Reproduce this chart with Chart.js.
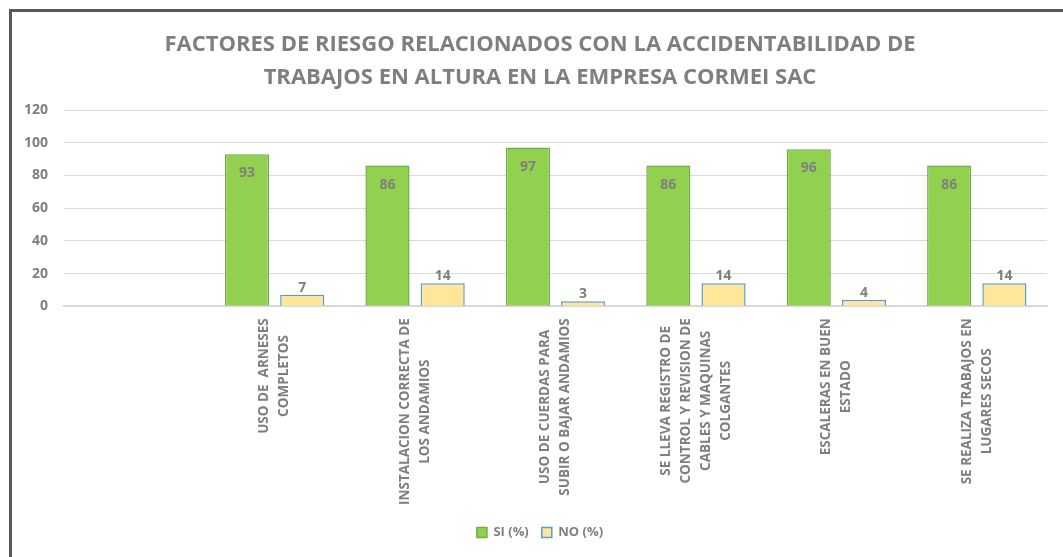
<!DOCTYPE html>
<html>
<head>
<meta charset="utf-8">
<script src="https://cdn.jsdelivr.net/npm/chart.js@4.4.1/dist/chart.umd.min.js"></script>
<style>
  html, body { margin: 0; padding: 0; background: #fff; }
  body { width: 1063px; height: 557px; overflow: hidden; position: relative; }
  #frame {
    position: absolute; left: 9px; top: 9px; width: 1060px; height: 560px;
    border-left: 3px solid #595959; border-top: 3px solid #595959;
  }
  #wrap { position: absolute; left: 12px; top: 12px; width: 1051px; height: 545px; }
</style>
</head>
<body>
<div id="frame"></div>
<div id="wrap"><canvas id="chart"></canvas></div>
<script>
// Chart data
const categories = [
  [""],
  ["USO DE  ARNESES", "COMPLETOS"],
  ["INSTALACION CORRECTA DE", "LOS ANDAMIOS"],
  ["USO DE CUERDAS PARA", "SUBIR O BAJAR ANDAMIOS"],
  ["SE LLEVA REGISTRO DE", "CONTROL Y REVISION DE", "CABLES Y MAQUINAS", "COLGANTES"],
  ["ESCALERAS EN BUEN", "ESTADO"],
  ["SE REALIZA TRABAJOS EN", "LUGARES SECOS"]
]
const siValues = [null, 93, 86, 97, 86, 96, 86]
const noValues = [null, 7, 14, 3, 14, 4, 14]
const yTicks = [0, 20, 40, 60, 80, 100, 120]

const textGray = "#7f7f7f"
const fontFamily = "'Open Sans', sans-serif"
const catFontSize = 13.5

// Value labels: SI inside the top of the bar, NO above the bar
const valueLabels = {
  id: "valueLabels",
  afterDatasetsDraw(chart) {
    const ctx = chart.ctx
    ctx.save()
    ctx.font = "bold 14px " + fontFamily
    ctx.fillStyle = textGray
    ctx.textAlign = "center"
    chart.data.datasets.forEach((ds, di) => {
      const meta = chart.getDatasetMeta(di)
      meta.data.forEach((bar, i) => {
        const v = ds.data[i]
        if (v === null) return
        if (di === 0) {
          ctx.textBaseline = "middle"
          ctx.fillText(v, bar.x, bar.y + 19)
        } else {
          ctx.textBaseline = "bottom"
          ctx.fillText(v, bar.x, bar.y)
        }
      })
    })
    ctx.restore()
  }
}

// Axis labels: y ticks right-aligned, x categories rotated with centred lines
const axisLabels = {
  id: "axisLabels",
  afterDraw(chart) {
    const ctx = chart.ctx
    const xScale = chart.scales.x
    const yScale = chart.scales.y
    ctx.save()
    ctx.fillStyle = textGray

    ctx.font = "bold 14px " + fontFamily
    ctx.textAlign = "right"
    ctx.textBaseline = "middle"
    yTicks.forEach((v) => {
      ctx.fillText(v, yScale.right - 16, yScale.getPixelForValue(v))
    })

    const top = xScale.top + 12
    const lineH = 20
    ctx.font = "bold " + catFontSize + "px " + fontFamily
    ctx.textAlign = "center"
    categories.forEach((lines, i) => {
      const x = xScale.getPixelForTick(i)
      const maxW = Math.max(...lines.map((l) => ctx.measureText(l).width))
      ctx.save()
      ctx.translate(x, top)
      ctx.rotate(-Math.PI / 2)
      lines.forEach((line, k) => {
        const off = (k - (lines.length - 1) / 2) * lineH
        ctx.fillText(line, -maxW / 2, off)
      })
      ctx.restore()
    })
    ctx.restore()
  }
}

new Chart(document.getElementById("chart"), {
  type: "bar",
  data: {
    labels: categories,
    datasets: [
      {
        label: "SI (%)",
        data: siValues,
        backgroundColor: "#92d050",
        borderColor: "#70ad47",
        borderWidth: 1.5,
        categoryPercentage: 0.786,
        barPercentage: 0.8
      },
      {
        label: "NO (%)",
        data: noValues,
        backgroundColor: "#ffe699",
        borderColor: "#5b9bd5",
        borderWidth: 1.5,
        categoryPercentage: 0.786,
        barPercentage: 0.8
      }
    ]
  },
  options: {
    responsive: true,
    maintainAspectRatio: false,
    animation: false,
    layout: { padding: { left: 21, right: 16, top: 0, bottom: 8 } },
    plugins: {
      title: {
        display: true,
        text: [
          "FACTORES DE RIESGO RELACIONADOS CON LA ACCIDENTABILIDAD DE",
          "TRABAJOS EN ALTURA EN LA EMPRESA CORMEI SAC"
        ],
        color: textGray,
        font: { family: fontFamily, size: 22, weight: "bold", lineHeight: 1.5 },
        padding: { top: 16, bottom: 16 }
      },
      legend: {
        position: "bottom",
        labels: {
          color: textGray,
          font: { family: fontFamily, size: 13, weight: "bold" },
          boxWidth: 10,
          boxHeight: 10,
          padding: 13
        }
      },
      tooltip: { enabled: false }
    },
    scales: {
      x: {
        grid: { display: false },
        border: { display: true, color: "#d9d9d9", width: 2 },
        ticks: {
          color: "rgba(0,0,0,0)",
          font: { family: fontFamily, size: catFontSize, weight: "bold" },
          maxRotation: 90,
          minRotation: 90,
          padding: 6
        }
      },
      y: {
        min: 0,
        max: 120,
        afterBuildTicks(scale) {
          scale.ticks = yTicks.map((v) => ({ value: v }))
        },
        afterFit(scale) {
          scale.width = 31
        },
        grid: { color: "#d9d9d9", lineWidth: 1, drawTicks: false },
        border: { display: false },
        ticks: { display: false }
      }
    }
  },
  plugins: [valueLabels, axisLabels]
})
</script>
</body>
</html>
